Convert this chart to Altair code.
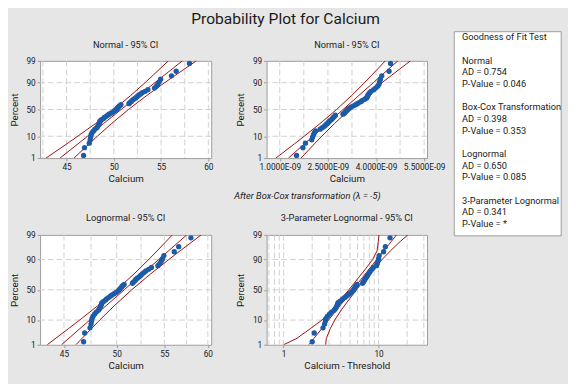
import altair as alt
import pandas as pd
from statistics import NormalDist

ND = NormalDist()

# ---------------- data ----------------
CALCIUM = [46.8, 46.9, 47.4, 47.5, 47.55, 47.6, 47.7, 47.85, 48.0, 48.2,
           48.3, 48.4, 48.45, 48.5, 48.55, 48.7, 48.9, 49.0, 49.2, 49.35,
           49.5, 49.7, 49.9, 50.05, 50.2, 50.3, 50.4, 50.5, 50.6, 50.75,
           51.6, 51.7, 51.85, 51.95, 52.1, 52.3, 52.45, 52.6, 52.8, 53.0,
           53.3, 53.6, 54.3, 54.5, 54.65, 54.8, 54.95, 56.1, 56.6, 58.0]
BOXCOX_LAMBDA = -5
THRESHOLD = 44.8

PCT_TICKS = [1, 10, 50, 90, 99]
YGRID_PCT = [10, 50, 90]

CI_PCT = [1, 5, 10, 25, 50, 75, 90, 95, 99]
NORM_LO = [42.83, 45.03, 46.18, 48.06, 50.01, 51.80, 53.30, 54.17, 55.77]
NORM_FIT = [44.31, 46.21, 47.22, 48.91, 50.78, 52.65, 54.34, 55.35, 57.25]
NORM_HI = [45.79, 47.39, 48.26, 49.76, 51.55, 53.50, 55.38, 56.53, 58.73]

BC_LO = [0.879e-9, 1.458e-9, 1.761e-9, 2.256e-9, 2.772e-9, 3.244e-9, 3.641e-9, 3.870e-9, 4.289e-9]
BC_FIT = [1.270e-9, 1.769e-9, 2.035e-9, 2.481e-9, 2.975e-9, 3.469e-9, 3.915e-9, 4.181e-9, 4.680e-9]
BC_HI = [1.661e-9, 2.080e-9, 2.309e-9, 2.706e-9, 3.178e-9, 3.694e-9, 4.189e-9, 4.492e-9, 5.071e-9]

LOGN_LO = [43.52, 45.40, 46.43, 48.14, 50.00, 51.77, 53.30, 54.20, 55.89]
LOGN_FIT = [44.78, 46.45, 47.37, 48.95, 50.76, 52.63, 54.38, 55.45, 57.52]
LOGN_HI = [46.09, 47.53, 48.33, 49.76, 51.52, 53.51, 55.49, 56.74, 59.20]

L3_PCT = [1, 2, 5, 10, 20, 30, 50, 70, 80, 90, 95, 98, 99]
L3_LO = [1.00, 1.38, 1.91, 2.53, 3.24, 3.78, 4.87, 6.18, 7.16, 8.65, 9.64, 9.95, 10.1]
L3_FIT = [1.845, 2.09, 2.52, 2.97, 3.63, 4.20, 5.34, 6.78, 7.85, 9.60, 11.32, 13.65, 15.45]
L3_HI = [2.77, 2.82, 3.10, 3.45, 4.07, 4.66, 5.85, 7.43, 8.71, 10.89, 13.30, 16.98, 20.37]

N_XTICKS = [45, 50, 55, 60]
N_XGRID = [42.5, 45, 47.5, 50, 52.5, 55, 57.5, 60]
BC_XTICKS = [1.0e-9, 2.5e-9, 4.0e-9, 5.5e-9]
BC_XGRID = [1.0e-9, 1.75e-9, 2.5e-9, 3.25e-9, 4.0e-9, 4.75e-9, 5.5e-9]
LN_XTICKS = [45, 50, 55, 60]
LN_XGRID = [45, 47.5, 50, 52.5, 55, 57.5, 60]
L3_XTICKS = [1, 10]
L3_XGRID = [0.7, 0.8, 0.9, 1, 2, 3, 4, 5, 6, 7, 8, 9, 10, 20, 30]

GOF_HEADER = "Goodness of Fit Test"
GOF_BLOCKS = [["Normal", "AD = 0.754", "P-Value = 0.046"],
              ["Box-Cox Transformation", "AD = 0.398", "P-Value = 0.353"],
              ["Lognormal", "AD = 0.650", "P-Value = 0.085"],
              ["3-Parameter Lognormal", "AD = 0.341", "P-Value = *"]]

TITLE = "Probability Plot for Calcium"
PANEL_TITLES = ["Normal - 95% CI", "Normal - 95% CI", "Lognormal - 95% CI",
                "3-Parameter Lognormal - 95% CI"]
FOOTNOTE = "After Box-Cox transformation (λ = -5)"

# ---------------- style ----------------
FONT = "Roboto"
TEXT = "#1a1a1a"
BLUE = "#1c5ba8"
RED = "#9e0b0b"
GRIDC = "#d0d0d0"
FRAME = "#9c9c9c"
BG = "#e6e6e6"


def zq(p):
    return ND.inv_cdf(p / 100.0)


Z_TICKS = [zq(p) for p in PCT_TICKS]
Z_DOMAIN = [Z_TICKS[0], Z_TICKS[-1]]
Y_LABEL_EXPR = "format(cumulativeNormal(datum.value) * 100, '.0f')"


def text_layer(s, x, y, **kw):
    opts = dict(font=FONT, fontSize=9.5, color=TEXT, align="center", baseline="middle")
    opts.update(kw)
    return alt.Chart(pd.DataFrame({"t": [s]})).mark_text(**opts).encode(
        text="t:N", x=alt.value(x), y=alt.value(y))


def panel(values, line_pct, lo, fit, hi, scale, xticks, xgrid, xtitle, title,
          width, height, title_dy, label_expr=None, extra=()):
    pts = sorted(values)
    n = len(pts)
    pts_df = pd.DataFrame({"x": pts,
                           "z": [ND.inv_cdf((i + 0.7) / (n + 0.4)) for i in range(n)]})
    rows = []
    for name, arr in (("lo", lo), ("fit", fit), ("hi", hi)):
        for p, v in zip(line_pct, arr):
            rows.append({"series": name, "x": v, "z": zq(p)})
    lines_df = pd.DataFrame(rows)
    xg = pd.DataFrame({"x": xgrid})
    yg = pd.DataFrame({"z": [zq(p) for p in YGRID_PCT]})

    axkw = dict(values=xticks, title=xtitle, grid=False)
    if label_expr:
        axkw["labelExpr"] = label_expr
    else:
        axkw["format"] = "~g"
    X = alt.X("x:Q", scale=scale, axis=alt.Axis(**axkw))
    Y = alt.Y("z:Q", scale=alt.Scale(domain=Z_DOMAIN, nice=False, zero=False),
              axis=alt.Axis(values=Z_TICKS, labelExpr=Y_LABEL_EXPR, title="Percent", grid=False))

    gx = alt.Chart(xg).mark_rule(color=GRIDC, strokeDash=[6, 3], strokeWidth=1).encode(x=X)
    gy = alt.Chart(yg).mark_rule(color=GRIDC, strokeDash=[6, 3], strokeWidth=1).encode(y=Y)
    ln = alt.Chart(lines_df).mark_line(color=RED, strokeWidth=1, clip=True).encode(
        x=X, y=Y, detail="series:N", order="z:Q")
    pt = alt.Chart(pts_df).mark_circle(size=30, color=BLUE, opacity=1).encode(x=X, y=Y)
    ttl = text_layer(title, width / 2, title_dy)
    layers = [gx, gy, ln, pt, ttl] + list(extra)
    return alt.layer(*layers).properties(width=width, height=height)


BC_VALUES = [c ** BOXCOX_LAMBDA for c in CALCIUM]
L3_VALUES = [c - THRESHOLD for c in CALCIUM]

# annotations attached to the top-right panel: footnote and goodness-of-fit box
foot = text_layer(FOOTNOTE, 42, 139, fontStyle="italic")
box = alt.Chart(pd.DataFrame({"a": [0]})).mark_rect(fill="white", stroke=FRAME, strokeWidth=1).encode(
    x=alt.value(193), x2=alt.value(303), y=alt.value(-30), y2=alt.value(180))
gof_layers = [box, text_layer(GOF_HEADER, 201, -24, align="left")]
for k, block in enumerate(GOF_BLOCKS):
    gof_layers.append(text_layer("\n".join(block), 201, -5 + 48 * k, align="left",
                                 baseline="top", lineBreak="\n", lineHeight=12))

p1 = panel(CALCIUM, CI_PCT, NORM_LO, NORM_FIT, NORM_HI,
           alt.Scale(domain=[42.2, 60.3], nice=False, zero=False),
           N_XTICKS, N_XGRID, "Calcium", PANEL_TITLES[0], 176, 100, -16)
p2 = panel(BC_VALUES, CI_PCT, BC_LO, BC_FIT, BC_HI,
           alt.Scale(domain=[0.59e-9, 5.59e-9], nice=False, zero=False),
           BC_XTICKS, BC_XGRID, "Calcium", PANEL_TITLES[1], 165, 100, -16,
           label_expr="replace(format(datum.value, '.4e'), 'e-9', 'E-09')",
           extra=[foot] + gof_layers)
p3 = panel(CALCIUM, CI_PCT, LOGN_LO, LOGN_FIT, LOGN_HI,
           alt.Scale(type="log", domain=[42.9, 60.4], nice=False),
           LN_XTICKS, LN_XGRID, "Calcium", PANEL_TITLES[2], 176, 113, -17)
p4 = panel(L3_VALUES, L3_PCT, L3_LO, L3_FIT, L3_HI,
           alt.Scale(type="log", domain=[0.662, 32.4], nice=False),
           L3_XTICKS, L3_XGRID, "Calcium - Threshold", PANEL_TITLES[3], 165, 113, -17)

chart = alt.concat(p1, p2, p3, p4, columns=2, align="each", bounds="flush",
                   spacing={"row": 79, "column": 57}).properties(
    title=alt.TitleParams(TITLE, fontSize=16, fontWeight="normal", font=FONT, color=TEXT,
                          anchor="middle", frame="bounds", baseline="bottom", offset=-12),
    background=BG,
    padding={"left": 0, "top": -2, "right": 6, "bottom": 8},
).configure_axis(
    labelFont=FONT, labelFontSize=8.5, labelColor=TEXT,
    titleFont=FONT, titleFontSize=10, titleFontWeight="normal", titleColor=TEXT,
    tickColor=FRAME, tickSize=3, domain=False, labelPadding=2,
).configure_axisY(titlePadding=7).configure_axisX(titlePadding=3).configure_view(
    stroke=FRAME, fill="white")

chart.save("out.html", embed_options={"renderer": "svg", "actions": False})
